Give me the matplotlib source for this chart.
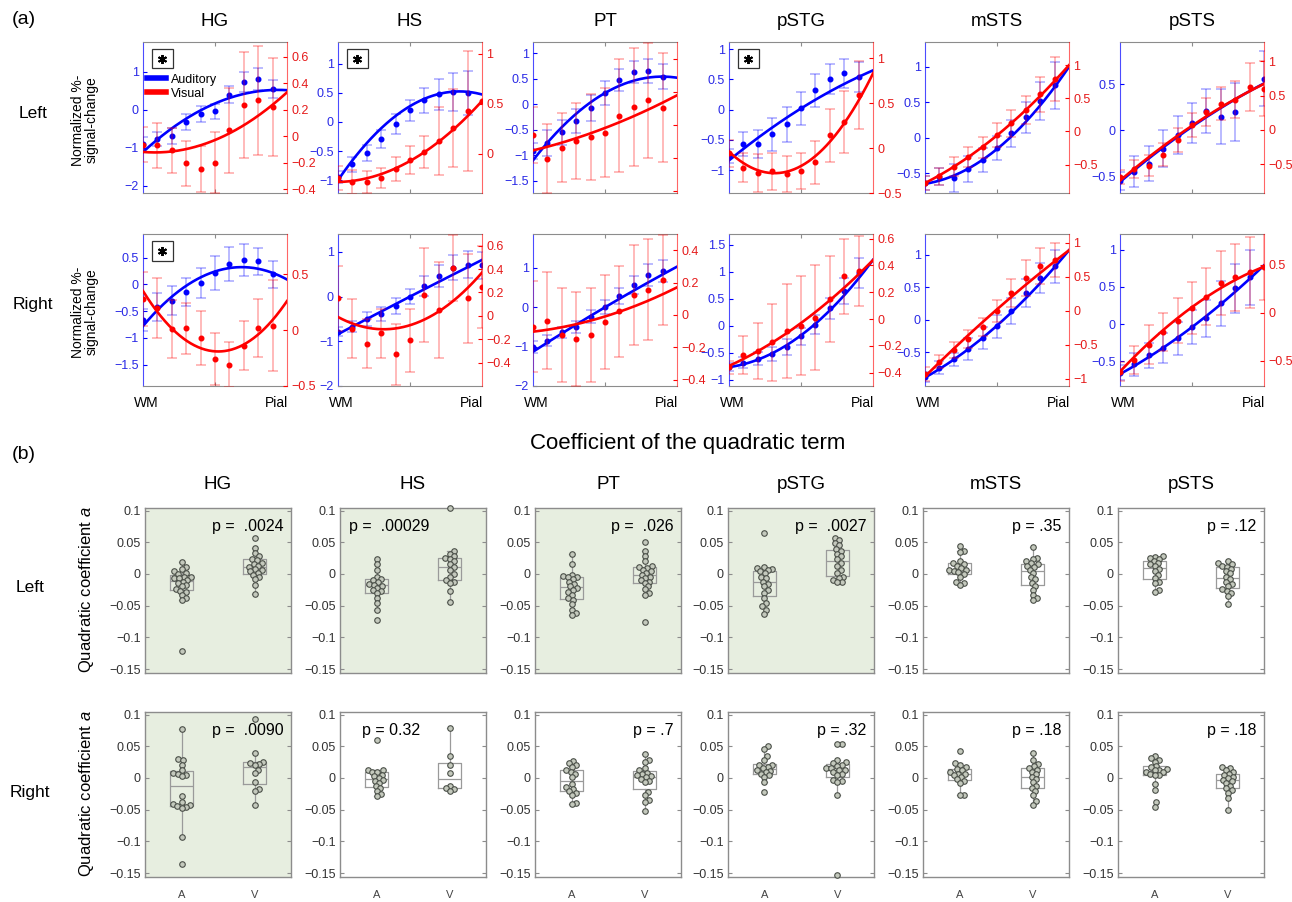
import numpy as np
import matplotlib
matplotlib.use('Agg')
import matplotlib.pyplot as plt
from matplotlib.lines import Line2D
from matplotlib.patches import Rectangle

plt.rcParams['font.family'] = ['Liberation Sans', 'DejaVu Sans']
plt.rcParams['mathtext.fontset'] = 'custom'
plt.rcParams['mathtext.rm'] = 'Liberation Sans'
plt.rcParams['mathtext.it'] = 'Liberation Sans:italic'
plt.rcParams['axes.unicode_minus'] = True

nan = np.nan
regions = ['HG', 'HS', 'PT', 'pSTG', 'mSTS', 'pSTS']

# ---------------- (a) depth profiles: auditory (left axis) / visual (right axis)
aud_mean_L = {
    'HG':   [-0.91, -0.76, -0.69, -0.32, -0.11, -0.04, 0.40, 0.74, 0.82, 0.56],
    'HS':   [-0.94, -0.73, -0.53, -0.29, -0.03, 0.20, 0.37, 0.47, 0.51, 0.49, nan],
    'PT':   [-0.92, -0.76, -0.55, -0.33, -0.07, 0.22, 0.48, 0.63, 0.65, 0.54],
    'pSTG': [-0.77, -0.57, -0.57, -0.41, -0.24, 0.02, 0.32, 0.51, 0.60, 0.54],
    'mSTS': [-0.64, -0.55, -0.57, -0.44, -0.31, -0.15, 0.06, 0.29, 0.52, 0.74],
    'pSTS': [-0.55, -0.45, -0.36, -0.20, -0.05, 0.08, 0.21, 0.15, 0.20, nan, 0.56],
}
aud_err_L = {
    'HG':   [0.20, 0.18, 0.22, 0.22, 0.20, 0.20, 0.23, 0.27, 0.29, 0.24],
    'HS':   [0.10, 0.13, 0.14, 0.15, 0.17, 0.18, 0.21, 0.27, 0.33, 0.38, nan],
    'PT':   [0.16, 0.25, 0.24, 0.24, 0.25, 0.23, 0.22, 0.22, 0.24, 0.25],
    'pSTG': [0.12, 0.20, 0.23, 0.27, 0.29, 0.28, 0.27, 0.25, 0.24, 0.25],
    'mSTS': [0.10, 0.12, 0.20, 0.18, 0.17, 0.17, 0.19, 0.22, 0.27, 0.33],
    'pSTS': [0.10, 0.17, 0.19, 0.20, 0.21, 0.22, 0.24, 0.30, 0.31, nan, 0.30],
}
vis_mean_L = {
    'HG':   [-0.065, -0.07, -0.108, -0.204, -0.247, -0.20, 0.043, 0.237, 0.27, 0.219],
    'HS':   [-0.24, -0.28, -0.28, -0.24, -0.15, -0.06, 0.02, 0.13, 0.26, 0.43, 0.53],
    'PT':   [-0.063, -0.204, -0.137, -0.097, -0.073, -0.048, 0.057, 0.109, 0.149, 0.105],
    'pSTG': [-0.06, -0.22, -0.28, -0.26, -0.29, -0.26, -0.16, 0.14, 0.29, 0.59],
    'mSTS': [-0.78, -0.68, -0.53, -0.39, -0.24, -0.06, 0.12, 0.32, 0.56, 0.79],
    'pSTS': [-0.69, -0.57, -0.52, -0.36, -0.15, 0.07, 0.26, 0.38, 0.44, 0.63, 0.60],
}
vis_err_L = {
    'HG':   [0.13, 0.17, 0.17, 0.17, 0.175, 0.23, 0.32, 0.40, 0.41, 0.37],
    'HS':   [0.12, 0.12, 0.11, 0.10, 0.12, 0.14, 0.16, 0.34, 0.39, 0.60, nan],
    'PT':   [0.17, 0.21, 0.21, 0.23, 0.26, 0.27, 0.34, 0.36, 0.35, 0.33],
    'pSTG': [0.15, 0.16, 0.21, 0.21, 0.20, 0.20, 0.24, 0.29, 0.35, 0.38],
    'mSTS': [0.10, 0.13, 0.15, 0.15, 0.16, 0.18, 0.20, 0.21, 0.26, 0.33],
    'pSTS': [0.10, 0.13, 0.15, 0.17, 0.17, 0.18, 0.20, 0.24, 0.27, 0.35, 0.40],
}
aud_mean_R = {
    'HG':   [-0.67, -0.43, -0.31, -0.14, 0.02, 0.21, 0.38, 0.46, 0.43, 0.19],
    'HS':   [-0.79, -0.67, -0.50, -0.39, -0.21, 0.00, 0.24, 0.46, 0.64, 0.71, 0.70],
    'PT':   [-1.00, -0.85, -0.64, -0.51, -0.24, 0.00, 0.29, 0.57, 0.82, 0.91],
    'pSTG': [-0.77, -0.69, -0.61, -0.52, -0.39, -0.20, 0.02, 0.32, 0.65, 0.97],
    'mSTS': [-0.88, -0.74, -0.61, -0.45, -0.28, -0.10, 0.14, 0.41, 0.64, 0.82],
    'pSTS': [-0.65, -0.54, -0.42, -0.32, -0.19, -0.04, 0.08, 0.28, 0.48, 0.63, nan],
}
aud_err_R = {
    'HG':   [0.20, 0.26, 0.27, 0.26, 0.28, 0.32, 0.31, 0.30, 0.25, 0.25],
    'HS':   [0.10, 0.13, 0.15, 0.15, 0.17, 0.16, 0.23, 0.25, 0.28, 0.30, 0.30],
    'PT':   [0.15, 0.14, 0.15, 0.15, 0.17, 0.18, 0.20, 0.23, 0.27, 0.28],
    'pSTG': [0.08, 0.10, 0.12, 0.13, 0.15, 0.16, 0.18, 0.20, 0.24, 0.28],
    'mSTS': [0.08, 0.10, 0.10, 0.17, 0.17, 0.18, 0.20, 0.21, 0.23, 0.25],
    'pSTS': [0.10, 0.15, 0.17, 0.20, 0.22, 0.23, 0.25, 0.30, 0.33, 0.37, nan],
}
vis_mean_R = {
    'HG':   [0.28, 0.20, 0.01, 0.015, -0.07, -0.26, -0.31, -0.14, 0.02, 0.04],
    'HS':   [0.15, -0.11, -0.24, -0.15, -0.33, -0.21, 0.18, 0.05, 0.41, 0.15, 0.25],
    'PT':   [-0.073, -0.035, -0.125, -0.15, -0.125, -0.042, 0.021, 0.125, 0.156, 0.215],
    'pSTG': [-0.36, -0.27, -0.24, -0.175, -0.09, -0.05, 0.01, 0.15, 0.32, 0.36],
    'mSTS': [-0.93, -0.75, -0.58, -0.42, -0.24, 0.00, 0.26, 0.48, 0.66, 0.75],
    'pSTS': [-0.61, -0.49, -0.33, -0.20, -0.08, 0.05, 0.17, 0.31, 0.37, 0.42, 0.48],
}
vis_err_R = {
    'HG':   [0.24, 0.27, 0.26, 0.23, 0.24, 0.23, 0.20, 0.22, 0.26, 0.41],
    'HS':   [0.28, 0.25, 0.21, 0.21, 0.26, 0.27, 0.40, 0.41, 0.28, 0.38, 0.35],
    'PT':   [0.28, 0.30, 0.29, 0.29, 0.29, 0.29, 0.28, 0.31, 0.31, 0.28],
    'pSTG': [0.05, 0.14, 0.21, 0.29, 0.35, 0.37, 0.39, 0.32, 0.28, 0.26],
    'mSTS': [0.10, 0.10, 0.12, 0.13, 0.13, 0.16, 0.20, 0.26, 0.27, 0.25],
    'pSTS': [0.10, 0.15, 0.20, 0.20, 0.23, 0.27, 0.30, 0.33, 0.35, 0.37, 0.35],
}
# quadratic fit curves, read at WM (depth 0), middle (depth 5) and pial (depth 10)
fit_depths = [0, 5, 10]
aud_fit_L = {'HG': [-1.11, 0.17, 0.52], 'HS': [-1.0, 0.27, 0.47], 'PT': [-1.10, 0.22, 0.52],
             'pSTG': [-0.84, 0.02, 0.65], 'mSTS': [-0.65, -0.16, 1.0], 'pSTS': [-0.56, 0.04, 0.51]}
vis_fit_L = {'HG': [-0.12, -0.03, 0.33], 'HS': [-0.28, -0.07, 0.53], 'PT': [-0.154, -0.018, 0.18],
             'pSTG': [-0.04, -0.20, 0.83], 'mSTS': [-0.78, -0.06, 1.0], 'pSTS': [-0.74, 0.06, 0.67]}
aud_fit_R = {'HG': [-0.78, 0.24, 0.09], 'HS': [-0.84, 0.0, 0.82], 'PT': [-1.13, 0.0, 1.03],
             'pSTG': [-0.77, -0.18, 1.22], 'mSTS': [-0.89, -0.09, 1.07], 'pSTS': [-0.67, -0.04, 0.79]}
vis_fit_R = {'HG': [0.35, -0.19, 0.26], 'HS': [-0.01, -0.08, 0.37], 'PT': [-0.104, -0.01, 0.17],
             'pSTG': [-0.35, -0.03, 0.44], 'mSTS': [-0.97, 0.02, 0.89], 'pSTS': [-0.61, 0.06, 0.48]}
# axis limits / ticks (left = auditory, right = visual)
aud_lim_L = {'HG': (-2.19, 1.79), 'HS': (-1.22, 1.37), 'PT': (-1.74, 1.22),
             'pSTG': (-1.38, 1.12), 'mSTS': (-0.78, 1.35), 'pSTS': (-0.68, 0.96)}
vis_lim_L = {'HG': (-0.43, 0.71), 'HS': (-0.39, 1.12), 'PT': (-0.412, 0.503),
             'pSTG': (-0.49, 1.18), 'mSTS': (-0.93, 1.35), 'pSTS': (-0.92, 1.28)}
aud_ticks_L = {'HG': [-2, -1, 0, 1], 'HS': [-1, -0.5, 0, 0.5, 1], 'PT': [-1.5, -1, -0.5, 0, 0.5, 1],
               'pSTG': [-1, -0.5, 0, 0.5, 1], 'mSTS': [-0.5, 0, 0.5, 1], 'pSTS': [-0.5, 0, 0.5]}
vis_ticks_L = {'HG': [-0.4, -0.2, 0, 0.2, 0.4, 0.6], 'HS': [0, 0.5, 1], 'PT': [-0.4, -0.2, 0, 0.2, 0.4],
               'pSTG': [-0.5, 0, 0.5, 1], 'mSTS': [-0.5, 0, 0.5, 1], 'pSTS': [-0.5, 0, 0.5, 1]}
aud_lim_R = {'HG': (-1.9, 0.94), 'HS': (-2.0, 1.4), 'PT': (-2.0, 1.86),
             'pSTG': (-1.12, 1.7), 'mSTS': (-1.02, 1.32), 'pSTS': (-0.83, 1.21)}
vis_lim_R = {'HG': (-0.5, 0.86), 'HS': (-0.6, 0.7), 'PT': (-0.44, 0.5),
             'pSTG': (-0.5, 0.635), 'mSTS': (-1.11, 1.13), 'pSTS': (-0.76, 0.82)}
aud_ticks_R = {'HG': [-1.5, -1, -0.5, 0, 0.5], 'HS': [-2, -1, 0, 1], 'PT': [-2, -1, 0, 1],
               'pSTG': [-1, -0.5, 0, 0.5, 1, 1.5], 'mSTS': [-0.5, 0, 0.5, 1], 'pSTS': [-0.5, 0, 0.5, 1]}
vis_ticks_R = {'HG': [-0.5, 0, 0.5], 'HS': [-0.4, -0.2, 0, 0.2, 0.4, 0.6], 'PT': [-0.4, -0.2, 0, 0.2, 0.4],
               'pSTG': [-0.4, -0.2, 0, 0.2, 0.4, 0.6], 'mSTS': [-1, -0.5, 0, 0.5, 1], 'pSTS': [-0.5, 0, 0.5]}
star_L = ['HG', 'HS', 'pSTG']
star_R = ['HG']

# ---------------- (b) quadratic coefficients
coef_A_L = {
    'HG': [0.019, 0.011, 0.008, 0.004, 0.002, 0.0, -0.004, -0.005, -0.006, -0.007, -0.009, -0.012, -0.014,
           -0.017, -0.019, -0.024, -0.026, -0.029, -0.033, -0.038, -0.041, -0.122],
    'HS': [0.023, 0.015, 0.007, -0.004, -0.008, -0.010, -0.013, -0.015, -0.017, -0.019, -0.022, -0.025,
           -0.027, -0.030, -0.038, -0.046, -0.056, -0.073],
    'PT': [0.031, 0.016, -0.001, -0.003, -0.004, -0.005, -0.008, -0.012, -0.015, -0.019, -0.022, -0.025,
           -0.028, -0.033, -0.038, -0.041, -0.048, -0.056, -0.061, -0.064],
    'pSTG': [0.065, 0.011, 0.009, 0.008, 0.007, 0.004, 0.001, -0.004, -0.006, -0.012, -0.015, -0.019,
             -0.025, -0.030, -0.038, -0.046, -0.051, -0.056, -0.063],
    'mSTS': [0.044, 0.036, 0.034, 0.020, 0.017, 0.015, 0.012, 0.009, 0.007, 0.006, 0.004, 0.003, 0.0,
             -0.004, -0.012, -0.014, -0.017],
    'pSTS': [0.028, 0.027, 0.025, 0.024, 0.020, 0.017, 0.015, 0.012, 0.008, 0.004, -0.001, -0.006,
             -0.012, -0.014, -0.025, -0.029],
}
coef_V_L = {
    'HG': [0.057, 0.041, 0.033, 0.028, 0.024, 0.022, 0.018, 0.016, 0.013, 0.011, 0.008, 0.006, 0.004,
           0.002, -0.001, -0.005, -0.008, -0.017, -0.031],
    'HS': [0.104, 0.036, 0.032, 0.028, 0.026, 0.024, 0.020, 0.016, 0.011, 0.007, 0.0, -0.004, -0.009,
           -0.012, -0.014, -0.026, -0.044],
    'PT': [0.051, 0.036, 0.028, 0.020, 0.012, 0.011, 0.009, 0.007, 0.004, 0.002, -0.001, -0.004, -0.006,
           -0.009, -0.012, -0.014, -0.019, -0.024, -0.030, -0.033, -0.075],
    'pSTG': [0.057, 0.053, 0.049, 0.045, 0.039, 0.036, 0.032, 0.028, 0.023, 0.017, 0.012, 0.007, 0.002,
             -0.004, -0.006, -0.009, -0.012, -0.013],
    'mSTS': [0.042, 0.026, 0.024, 0.020, 0.017, 0.015, 0.013, 0.011, 0.007, 0.002, -0.004, -0.008,
             -0.014, -0.019, -0.025, -0.033, -0.038, -0.041],
    'pSTS': [0.020, 0.017, 0.015, 0.012, 0.011, 0.008, 0.004, 0.001, -0.004, -0.008, -0.012, -0.015,
             -0.019, -0.024, -0.027, -0.030, -0.035, -0.047],
}
coef_A_R = {
    'HG': [0.077, 0.030, 0.028, 0.021, 0.013, 0.008, 0.007, 0.005, 0.003, -0.029, -0.038, -0.041, -0.042,
           -0.044, -0.046, -0.047, -0.093, -0.136],
    'HS': [0.060, 0.013, 0.012, 0.010, 0.009, 0.005, 0.003, 0.0, -0.003, -0.005, -0.008, -0.013, -0.016,
           -0.021, -0.025, -0.029],
    'PT': [0.027, 0.023, 0.020, 0.017, 0.012, 0.009, 0.006, 0.001, -0.009, -0.014, -0.017, -0.020,
           -0.024, -0.026, -0.039, -0.041],
    'pSTG': [0.051, 0.046, 0.034, 0.028, 0.021, 0.020, 0.017, 0.015, 0.012, 0.011, 0.009, 0.007, 0.004,
             0.002, -0.006, -0.022],
    'mSTS': [0.042, 0.023, 0.021, 0.017, 0.014, 0.012, 0.009, 0.007, 0.006, 0.004, 0.001, -0.002,
             -0.005, -0.008, -0.026, -0.026],
    'pSTS': [0.034, 0.031, 0.028, 0.026, 0.019, 0.017, 0.014, 0.013, 0.012, 0.010, 0.009, 0.007, 0.005,
             0.004, -0.009, -0.019, -0.038, -0.045],
}
coef_V_R = {
    'HG': [0.093, 0.040, 0.026, 0.024, 0.022, 0.021, 0.013, 0.008, -0.007, -0.017, -0.021, -0.042],
    'HS': [0.079, 0.035, 0.020, 0.008, -0.012, -0.016, -0.018, -0.021],
    'PT': [0.038, 0.028, 0.025, 0.016, 0.012, 0.008, 0.006, 0.004, 0.003, 0.001, -0.001, -0.004, -0.006,
           -0.022, -0.027, -0.035, -0.038, -0.052],
    'pSTG': [0.054, 0.054, 0.029, 0.025, 0.023, 0.021, 0.019, 0.016, 0.015, 0.013, 0.012, 0.009, 0.007,
             0.005, -0.003, -0.005, -0.007, -0.026, -0.153],
    'mSTS': [0.040, 0.028, 0.022, 0.019, 0.016, 0.013, 0.010, 0.006, 0.002, -0.002, -0.007, -0.012,
             -0.015, -0.020, -0.026, -0.037, -0.042],
    'pSTS': [0.018, 0.016, 0.013, 0.010, 0.007, 0.005, 0.002, 0.0, -0.003, -0.005, -0.008, -0.012,
             -0.016, -0.019, -0.023, -0.031, -0.050],
}
p_text_L = ['p =  .0024', 'p =  .00029', 'p =  .026', 'p =  .0027', 'p = .35', 'p = .12']
p_text_R = ['p =  .0090', 'p = 0.32', 'p = .7', 'p = .32', 'p = .18', 'p = .18']
signif_L = ['HG', 'HS', 'PT', 'pSTG']
signif_R = ['HG']
coef_ticks = [0.1, 0.05, 0, -0.05, -0.1, -0.15]
group_labels = ['A', 'V']

# ---------------- styling
BLUE = '#0000ff'
RED = '#ff0000'
BLUE_TXT = '#2a2ae6'
RED_TXT = '#e51a1a'
GRAY = '#8c8c8c'
SHADE = '#e7eee0'

W, H = 1292, 902
fig = plt.figure(figsize=(W / 100, H / 100), dpi=100)


def px_axes(left, top, width, height):
    return fig.add_axes([left / W, 1 - (top + height) / H, width / W, height / H])


def fmt(v):
    return ('%g' % v).replace('-', '\u2212')


def depth_panel(ax, am, ae, vm, ve, afit, vfit, alim, vlim, aticks, vticks, hide_vis_labels=False):
    ax.set_xlim(0, 10)
    xx = np.linspace(0, 10, 200)
    am = np.array(am, float); ae = np.array(ae, float)
    xa = np.arange(len(am))
    ax.errorbar(xa, am, yerr=ae, fmt='none', ecolor=BLUE, alpha=0.35, elinewidth=1.1,
                capsize=3.5, capthick=1.1, zorder=2)
    ax.plot(xa, am, 'o', color=BLUE, ms=3.3, zorder=3)
    ax.plot(xx, np.polyval(np.polyfit(fit_depths, afit, 2), xx), color=BLUE, lw=1.9, zorder=4)
    ax.set_ylim(*alim)
    ax.set_yticks(aticks)
    ax.set_yticklabels([fmt(t) for t in aticks])
    ax.tick_params(axis='y', direction='in', length=3, color=BLUE, labelcolor=BLUE_TXT,
                   labelsize=9, pad=3)
    ax.set_xticks([5])
    ax.tick_params(axis='x', direction='in', length=3, color=GRAY, top=True,
                   labelbottom=False)
    for s in ['top', 'bottom']:
        ax.spines[s].set_color(GRAY)
    ax.spines['left'].set_color(BLUE)
    ax.spines['left'].set_alpha(0.7)
    ax.spines['right'].set_visible(False)

    ax2 = ax.twinx()
    vm = np.array(vm, float); ve = np.array(ve, float)
    xv = np.arange(len(vm))
    ax2.errorbar(xv, vm, yerr=ve, fmt='none', ecolor=RED, alpha=0.35, elinewidth=1.1,
                 capsize=3.5, capthick=1.1, zorder=2)
    ax2.plot(xv, vm, 'o', color=RED, ms=3.3, zorder=3)
    ax2.plot(xx, np.polyval(np.polyfit(fit_depths, vfit, 2), xx), color=RED, lw=1.9, zorder=4)
    ax2.set_ylim(*vlim)
    ax2.set_yticks(vticks)
    ax2.set_yticklabels([] if hide_vis_labels else [fmt(t) for t in vticks])
    ax2.tick_params(axis='y', direction='in', length=3, color=RED, labelcolor=RED_TXT,
                    labelsize=9, pad=3)
    for s in ['top', 'bottom', 'left']:
        ax2.spines[s].set_visible(False)
    ax2.spines['right'].set_color(RED)
    ax2.spines['right'].set_alpha(0.6)
    return ax, ax2


def star_box(ax):
    ax.add_patch(Rectangle((0.06, 0.825), 0.148, 0.127, transform=ax.transAxes,
                           fill=True, fc='white', ec='#333333', lw=0.9, zorder=10))
    ax.plot([0.134], [0.8885], transform=ax.transAxes, marker=(6, 2, 0), ms=6.5,
            mew=1.4, color='k', zorder=11)


def swarm_x(vals, center, d_px, xscale, yscale):
    vals = np.asarray(vals, float)
    order = np.argsort(vals)
    placed = []
    xs = np.zeros(len(vals))
    for i in order:
        y = vals[i] * yscale
        best = 0.0
        for k in range(400):
            found = False
            for sgn in ([1] if k == 0 else [1, -1]):
                off = sgn * k * 0.4
                if all((off - px) ** 2 + (y - py) ** 2 >= d_px ** 2 for px, py in placed):
                    best = off
                    found = True
                    break
            if found:
                break
        placed.append((best, y))
        xs[i] = center + best / xscale
    return xs


def coef_panel(ax, avals, vvals, ptxt, shaded, ploc_left=None, show_x=False):
    ylim = (-0.156, 0.104)
    ax.set_xlim(0.5, 2.5)
    ax.set_ylim(*ylim)
    if shaded:
        ax.set_facecolor(SHADE)
    line = dict(color='#9a9a9a', lw=0.9)
    ax.boxplot([avals, vvals], positions=[1, 2], widths=0.32, showfliers=False, whis=1.5,
               capwidths=0.07, boxprops=line, whiskerprops=line, capprops=line,
               medianprops=dict(color='#9a9a9a', lw=0.9), manage_ticks=False)
    bb = ax.get_position()
    xscale = bb.width * W / 2.0
    yscale = bb.height * H / (ylim[1] - ylim[0])
    for pos, vals in zip([1, 2], [avals, vvals]):
        xs = swarm_x(vals, pos, 4.6, xscale, yscale)
        ax.plot(xs, vals, 'o', ms=4.0, mfc='#c4c9bd', mec='#4a4f48', mew=0.8, zorder=3,
                clip_on=False)
    ax.set_yticks(coef_ticks)
    ax.set_yticklabels([fmt(t) for t in coef_ticks])
    ax.tick_params(axis='y', direction='in', length=3, color=GRAY, right=True,
                   labelsize=9, labelcolor='#333333', pad=3)
    if show_x:
        ax.set_xticks([1, 2])
        ax.set_xticklabels(group_labels)
        ax.tick_params(axis='x', length=0, pad=9, labelsize=8, labelcolor='#444444')
    else:
        ax.set_xticks([])
    for s in ax.spines.values():
        s.set_color(GRAY)
        s.set_linewidth(1.0)
    if ploc_left is None:
        ax.text(0.95, 0.885, ptxt, transform=ax.transAxes, ha='right', va='center', fontsize=11.5)
    else:
        ax.text(ploc_left, 0.885, ptxt, transform=ax.transAxes, ha='left', va='center', fontsize=11.5)


top_lefts = [143, 338, 533, 729, 925, 1120]
bot_lefts = [145, 340, 535, 728, 923, 1118]

for i, r in enumerate(regions):
    # Left hemisphere row
    ax = px_axes(top_lefts[i], 42, 144, 151)
    depth_panel(ax, aud_mean_L[r], aud_err_L[r], vis_mean_L[r], vis_err_L[r],
                aud_fit_L[r], vis_fit_L[r],
                aud_lim_L[r], vis_lim_L[r], aud_ticks_L[r], vis_ticks_L[r],
                hide_vis_labels=(r == 'PT'))
    if r in star_L:
        star_box(ax)
    if r == 'HG':
        handles = [Line2D([], [], color=BLUE, lw=4), Line2D([], [], color=RED, lw=4)]
        leg = ax.legend(handles, ['Auditory', 'Visual'], loc='upper left',
                        bbox_to_anchor=(0.0, 0.815), frameon=False, fontsize=9,
                        handlelength=1.5, handletextpad=0.4, labelspacing=0.15,
                        borderaxespad=0.0, borderpad=0.3)
        leg.set_zorder(12)
    fig.text((top_lefts[i] + 72) / W, 1 - 21.5 / H, r, ha='center', va='center', fontsize=13.5)

    # Right hemisphere row
    ax = px_axes(top_lefts[i], 234, 144, 152)
    depth_panel(ax, aud_mean_R[r], aud_err_R[r], vis_mean_R[r], vis_err_R[r],
                aud_fit_R[r], vis_fit_R[r],
                aud_lim_R[r], vis_lim_R[r], aud_ticks_R[r], vis_ticks_R[r])
    if r in star_R:
        star_box(ax)
    ax.text(0.02, -0.115, 'WM', transform=ax.transAxes, ha='center', va='center', fontsize=10)
    ax.text(1.01, -0.115, 'Pial', transform=ax.transAxes, ha='right', va='center', fontsize=10)

    # coefficients
    axb = px_axes(bot_lefts[i], 508, 146, 165)
    coef_panel(axb, coef_A_L[r], coef_V_L[r], p_text_L[i], r in signif_L,
               ploc_left=(0.06 if r == 'HS' else None))
    fig.text((bot_lefts[i] + 73) / W, 1 - 484.5 / H, r, ha='center', va='center', fontsize=13.5)
    axc = px_axes(bot_lefts[i], 712, 146, 165)
    coef_panel(axc, coef_A_R[r], coef_V_R[r], p_text_R[i], r in signif_R,
               ploc_left=(0.15 if r == 'HS' else None), show_x=True)

# figure-level text
fig.text(24 / W, 1 - 20 / H, '(a)', ha='center', va='center', fontsize=14)
fig.text(24 / W, 1 - 455 / H, '(b)', ha='center', va='center', fontsize=14)
fig.text(688 / W, 1 - 443 / H, 'Coefficient of the quadratic term', ha='center', va='center',
         fontsize=16)
fig.text(33 / W, 1 - 113 / H, 'Left', ha='center', va='center', fontsize=12.5)
fig.text(33 / W, 1 - 305 / H, 'Right', ha='center', va='center', fontsize=12.5)
fig.text(30 / W, 1 - 587 / H, 'Left', ha='center', va='center', fontsize=12.5)
fig.text(30 / W, 1 - 793 / H, 'Right', ha='center', va='center', fontsize=12.5)
fig.text(85 / W, 1 - 120 / H, 'Normalized %-\nsignal-change', ha='center', va='center',
         rotation=90, fontsize=10, multialignment='center', linespacing=1.0)
fig.text(85 / W, 1 - 312 / H, 'Normalized %-\nsignal-change', ha='center', va='center',
         rotation=90, fontsize=10, multialignment='center', linespacing=1.0)
fig.text(86 / W, 1 - 590 / H, 'Quadratic coefficient $\\it{a}$', ha='center', va='center',
         rotation=90, fontsize=12)
fig.text(86 / W, 1 - 794 / H, 'Quadratic coefficient $\\it{a}$', ha='center', va='center',
         rotation=90, fontsize=12)

fig.savefig('out.png', dpi=100, facecolor='white')
